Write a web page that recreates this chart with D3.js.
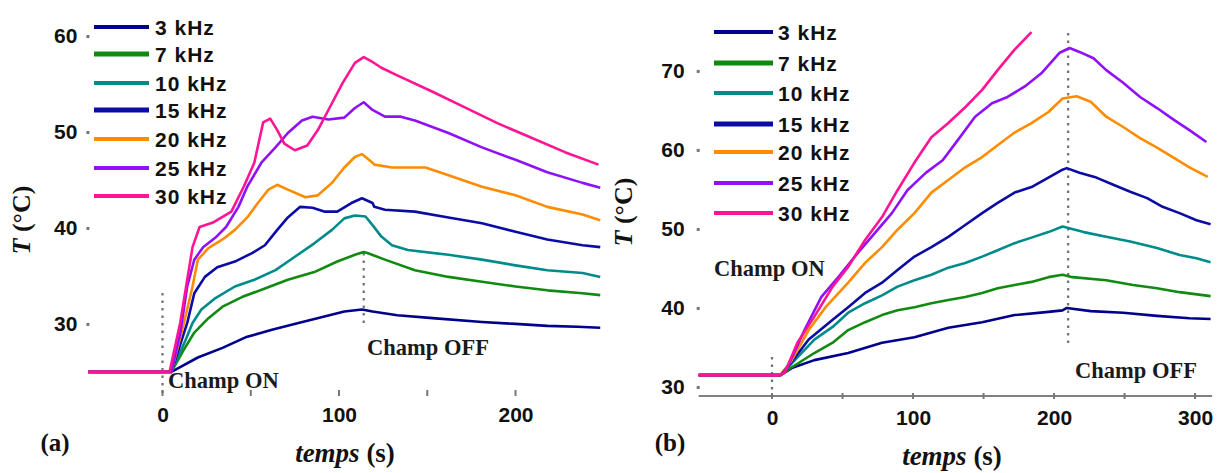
<!DOCTYPE html>
<html>
<head>
<meta charset="utf-8">
<script src="https://cdn.jsdelivr.net/npm/d3@7"></script>
<style>
  html, body { margin: 0; padding: 0; background: #fff; }
  svg { display: block; }
</style>
</head>
<body>
<svg id="chart" width="1223" height="473"></svg>
<script>
// ---------- DATA ----------
const seriesLabels = ["3 kHz", "7 kHz", "10 kHz", "15 kHz", "20 kHz", "25 kHz", "30 kHz"];
const seriesColors = ["#00008b", "#108a10", "#008b8b", "#0c0ca4", "#ff8c00", "#9010f8", "#ff1493"];

const xTicksA = [0, 100, 200];
const yTicksA = [30, 40, 50, 60];
const xTicksB = [0, 100, 200, 300];
const yTicksB = [30, 40, 50, 60, 70];

// Panel (a): [time s, T °C]
const a3 = [[-42,25],[5,25],[10,25.5],[20,26.5],[34,27.5],[47,28.6],[62,29.4],[77,30.1],[90,30.7],[103,31.3],[113,31.5],[119,31.3],[133,30.9],[153,30.6],[181,30.2],[200,30.0],[218,29.8],[235,29.7],[248,29.6]];
const a7 = [[-42,25],[5,25],[12,27.3],[18,29.1],[26,30.6],[34,31.8],[45,32.8],[58,33.7],[71,34.6],[86,35.4],[99,36.5],[109,37.2],[114,37.5],[116,37.4],[126,36.7],[143,35.6],[162,34.9],[181,34.4],[200,33.9],[218,33.5],[238,33.2],[248,33.0]];
const a10 = [[-42,25],[5,25],[13,28.3],[17,30.1],[22,31.5],[30,32.7],[41,33.9],[52,34.6],[64,35.6],[75,37.0],[86,38.4],[96,39.8],[103,41.0],[109,41.3],[115,41.2],[119,40.3],[124,39.1],[130,38.2],[139,37.7],[162,37.2],[181,36.7],[200,36.1],[218,35.6],[238,35.3],[248,34.9]];
const a15 = [[-42,25],[5,25],[14,30.1],[18,33.2],[24,34.9],[31,35.9],[41,36.5],[51,37.4],[58,38.2],[65,39.8],[71,41.1],[78,42.2],[85,42.1],[92,41.7],[99,41.7],[107,42.6],[113,43.1],[119,42.6],[120,42.2],[126,41.9],[143,41.7],[162,41.1],[181,40.5],[200,39.6],[218,38.8],[238,38.2],[248,38.0]];
const a20 = [[-42,25],[5,25],[12,30],[17,33.9],[20,36.7],[26,37.9],[34,38.8],[41,39.8],[48,41.1],[54,42.6],[60,44.0],[65,44.5],[71,44.0],[81,43.2],[88,43.4],[96,44.7],[103,46.3],[109,47.4],[113,47.7],[119,46.8],[120,46.6],[130,46.3],[149,46.3],[162,45.5],[181,44.3],[200,43.4],[218,42.2],[238,41.4],[248,40.8]];
const a25 = [[-42,25],[5,25],[10,29],[14,33.9],[18,36.7],[23,38.0],[30,39.0],[36,40.1],[43,42.2],[48,44.3],[56,46.8],[64,48.4],[71,49.9],[79,51.2],[85,51.6],[94,51.3],[103,51.5],[109,52.5],[114,53.1],[119,52.3],[126,51.6],[135,51.6],[143,51.2],[162,49.9],[181,48.4],[200,47.1],[218,45.8],[238,44.7],[248,44.2]];
const a30 = [[-42,25],[4,25],[10,30.1],[14,34.6],[17,38.0],[21,40.1],[29,40.6],[39,41.7],[46,44.3],[52,46.8],[57,51.0],[61,51.4],[65,50.2],[69,48.8],[75,48.1],[82,48.6],[88,50.2],[96,53.0],[102,55.1],[109,57.2],[114,57.8],[119,57.3],[124,56.7],[133,55.9],[153,54.2],[171,52.6],[190,50.9],[209,49.4],[228,47.9],[247,46.6]];

// Panel (b): [time s, T °C]
const b3 = [[-52,31.5],[6,31.5],[14,32.4],[30,33.4],[54,34.3],[78,35.6],[101,36.3],[125,37.5],[149,38.2],[172,39.1],[196,39.5],[206,39.7],[209,40.0],[226,39.6],[249,39.4],[273,39.0],[296,38.7],[311,38.6]];
const b7 = [[-52,31.5],[6,31.5],[14,32.5],[30,34.3],[43,35.6],[54,37.2],[66,38.2],[78,39.1],[89,39.7],[101,40.1],[113,40.6],[125,41.0],[137,41.4],[149,41.9],[160,42.5],[172,42.9],[184,43.3],[196,43.9],[206,44.2],[213,43.9],[237,43.5],[256,42.9],[273,42.5],[289,42.0],[311,41.5]];
const b10 = [[-52,31.5],[6,31.5],[14,33.0],[30,36.0],[43,37.6],[54,39.4],[66,40.6],[78,41.6],[89,42.7],[101,43.5],[113,44.2],[125,45.1],[137,45.7],[149,46.5],[160,47.3],[172,48.2],[184,48.9],[196,49.6],[206,50.3],[221,49.6],[237,49.0],[254,48.4],[273,47.6],[289,46.7],[301,46.3],[311,45.8]];
const b15 = [[-52,31.5],[6,31.5],[11,32.5],[26,36.0],[43,38.5],[54,40.1],[66,41.9],[78,43.2],[89,44.8],[101,46.5],[113,47.7],[125,49.0],[137,50.5],[149,52.0],[160,53.3],[172,54.6],[184,55.3],[196,56.5],[206,57.5],[209,57.7],[218,57.1],[230,56.5],[242,55.6],[254,54.7],[266,53.9],[277,52.8],[289,52.0],[301,51.1],[311,50.6]];
const b20 = [[-52,31.5],[6,31.5],[14,33.4],[26,37.2],[38,40.1],[54,43.2],[66,45.7],[78,47.7],[89,49.9],[101,52.0],[113,54.6],[125,56.2],[137,57.8],[149,59.1],[160,60.6],[172,62.2],[184,63.4],[196,64.8],[206,66.5],[216,66.8],[226,66.1],[237,64.2],[249,62.9],[261,61.5],[273,60.3],[285,59.0],[296,57.8],[309,56.6]];
const b25 = [[-52,31.5],[6,31.5],[11,32.5],[23,37.2],[35,41.4],[47,43.9],[61,47.0],[73,49.5],[85,52.0],[96,54.9],[109,57.1],[121,58.7],[132,61.3],[144,64.2],[156,65.9],[167,66.7],[179,68.0],[191,69.7],[204,72.3],[211,72.9],[218,72.4],[228,71.6],[237,70.1],[249,68.5],[261,66.7],[273,65.3],[285,63.8],[296,62.5],[308,61.0]];
const b30 = [[-52,31.5],[5,31.5],[9,31.8],[18,35.6],[30,38.9],[43,42.7],[54,45.2],[66,48.6],[78,51.5],[89,54.9],[101,58.4],[113,61.6],[125,63.4],[137,65.4],[149,67.6],[160,70.1],[172,72.7],[184,74.9]];

const seriesA = [a3, a7, a10, a15, a20, a25, a30];
const seriesB = [b3, b7, b10, b15, b20, b25, b30];

// ---------- DRAW ----------
const svg = d3.select("#chart");
const tickFont = "'Liberation Sans', Arial, sans-serif";
const serif = "'Liberation Serif', 'Times New Roman', serif";

function panel(cfg) {
  const x = d3.scaleLinear().domain(cfg.xDomain).range(cfg.xRange);
  const y = d3.scaleLinear().domain(cfg.yDomain).range(cfg.yRange);
  const g = svg.append("g");

  if (cfg.axisLine) {
    g.append("line")
      .attr("x1", cfg.xRange[0]).attr("x2", cfg.xRange[1])
      .attr("y1", cfg.yRange[0]).attr("y2", cfg.yRange[0])
      .attr("stroke", "#808080").attr("stroke-width", 2);
  }
  const xAxis = d3.axisBottom(x).tickValues(cfg.xTicks).tickSize(0).tickPadding(14)
    .tickFormat(d3.format("d"));
  const xa = g.append("g").attr("transform", `translate(0,${cfg.yRange[0]})`).call(xAxis);
  xa.select(".domain").remove();
  xa.selectAll("text").attr("font-family", tickFont).attr("font-weight", "bold")
    .attr("font-size", 21).attr("fill", "#111");
  g.selectAll(".xtm").data(cfg.xMinor).enter().append("line")
    .attr("x1", d => x(d)).attr("x2", d => x(d))
    .attr("y1", cfg.yRange[0] - 3).attr("y2", cfg.yRange[0] + 3)
    .attr("stroke", "#777").attr("stroke-width", 2);

  const yAxis = d3.axisLeft(y).tickValues(cfg.yTicks).tickSize(0).tickPadding(cfg.yPad)
    .tickFormat(d3.format("d"));
  const ya = g.append("g").attr("transform", `translate(${cfg.xRange[0]},0)`).call(yAxis);
  ya.select(".domain").remove();
  ya.selectAll("text").attr("font-family", tickFont).attr("font-weight", "bold")
    .attr("font-size", 21).attr("fill", "#111");
  g.selectAll(".ytm").data(cfg.yTicks).enter().append("rect")
    .attr("x", cfg.xRange[0] - 2).attr("y", d => y(d) - 1)
    .attr("width", 3).attr("height", 3).attr("fill", "#777");

  cfg.dots.forEach(dd => {
    g.append("line")
      .attr("x1", x(dd.t)).attr("x2", x(dd.t))
      .attr("y1", dd.y1).attr("y2", dd.y2)
      .attr("stroke", "#707070").attr("stroke-width", 2.2)
      .attr("stroke-dasharray", "2.5,5");
  });

  const line = d3.line().x(d => x(d[0])).y(d => y(d[1]));
  cfg.series.forEach((s, i) => {
    g.append("path").datum(s)
      .attr("d", line)
      .attr("fill", "none")
      .attr("stroke", seriesColors[i])
      .attr("stroke-width", 2.6)
      .attr("stroke-linejoin", "round");
  });

  seriesLabels.forEach((lab, i) => {
    const ly = cfg.legY[i];
    g.append("line")
      .attr("x1", cfg.legX[0]).attr("x2", cfg.legX[1])
      .attr("y1", ly).attr("y2", ly)
      .attr("stroke", seriesColors[i]).attr("stroke-width", i === 1 || i === 3 ? 5 : 4);
    g.append("text").attr("x", cfg.legX[2]).attr("y", ly)
      .attr("dy", "0.36em")
      .attr("font-family", tickFont).attr("font-weight", "bold").attr("font-size", 21)
      .attr("letter-spacing", 1)
      .attr("fill", "#111").text(lab);
  });

  cfg.notes.forEach(n => {
    g.append("text").attr("x", n.x).attr("y", n.y).attr("dy", "0.35em")
      .attr("font-family", serif).attr("font-weight", "bold").attr("font-size", 22.5)
      .attr("fill", "#1a1a1a")
      .text(n.text);
  });

  const xt = g.append("text").attr("x", cfg.xTitle[0]).attr("y", cfg.xTitle[1])
    .attr("text-anchor", "middle").attr("font-family", serif)
    .attr("font-weight", "bold").attr("font-size", 27).attr("fill", "#111");
  xt.append("tspan").attr("font-style", "italic").text("temps");
  xt.append("tspan").text(" (s)");

  const yt = g.append("text")
    .attr("transform", `translate(${cfg.yTitle[0]},${cfg.yTitle[1]}) rotate(-90)`)
    .attr("text-anchor", "middle").attr("font-family", serif)
    .attr("font-weight", "bold").attr("font-size", 26).attr("fill", "#111");
  yt.append("tspan").attr("font-style", "italic").text("T");
  yt.append("tspan").text(" (°C)");

  g.append("text").attr("x", cfg.tag[0]).attr("y", cfg.tag[1])
    .attr("text-anchor", "middle").attr("font-family", serif)
    .attr("font-weight", "bold").attr("font-size", 25).attr("fill", "#111")
    .text(cfg.tagText);
}

panel({
  xDomain: [-42, 249], xRange: [88.4, 602],
  yDomain: [22.8, 62.3], yRange: [393, 14],
  xTicks: xTicksA, yTicks: yTicksA, xMinor: [0, 50, 100, 150, 200],
  yPad: 11, axisLine: false,
  series: seriesA,
  dots: [{t: 114, y1: 253, y2: 328}, {t: 0, y1: 293, y2: 396}],
  legX: [94, 149, 155], legY: [27, 54, 83, 110, 139, 168, 196],
  notes: [{x: 168, y: 380, text: "Champ ON"}, {x: 367, y: 347, text: "Champ OFF"}],
  xTitle: [345, 462], yTitle: [30, 220], tag: [55, 451], tagText: "(a)"
});

panel({
  xDomain: [-52, 312], xRange: [698.7, 1212],
  yDomain: [28.86, 77.2], yRange: [396, 14],
  xTicks: xTicksB, yTicks: yTicksB, xMinor: [0, 50, 100, 150, 200, 250, 300],
  yPad: 14, axisLine: true,
  series: seriesB,
  dots: [{t: 210, y1: 33, y2: 346}, {t: 0, y1: 357, y2: 396}],
  legX: [714, 773, 778], legY: [32, 63, 93, 124, 152, 183, 213],
  notes: [{x: 714, y: 268, text: "Champ ON"}, {x: 1075, y: 370, text: "Champ OFF"}],
  xTitle: [952, 465], yTitle: [632, 212], tag: [670, 451], tagText: "(b)"
});
</script>
</body>
</html>
